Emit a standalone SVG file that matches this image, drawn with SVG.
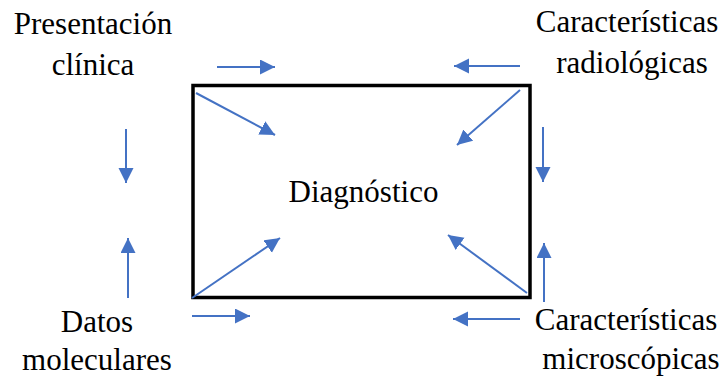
<svg xmlns="http://www.w3.org/2000/svg" width="722" height="378" viewBox="0 0 722 378">
<style>
.a{stroke:#4472C4;stroke-width:2;fill:none;marker-end:url(#ah)}
</style>
<defs>
<marker id="ah" markerUnits="userSpaceOnUse" markerWidth="16" markerHeight="16" viewBox="0 0 16 16" refX="15" refY="7.5" orient="auto">
<path d="M0,0 L15,7.5 L0,15 z" fill="#4472C4"/>
</marker>
</defs>
<rect width="722" height="378" fill="#fff"/>
<g font-family="Liberation Serif, DejaVu Serif, serif" font-size="31" text-anchor="middle" fill="#000">
<g id="diagnostico">
<rect x="193" y="85.5" width="337" height="212" fill="none" stroke="#000" stroke-width="3.5"/>
<text x="363.5" y="202">Diagnóstico</text>
</g>
<g id="presentacion">
<text x="93" y="34">Presentación</text>
<text x="93" y="75">clínica</text>
</g>
<g id="radiologicas">
<text x="627" y="32">Características</text>
<text x="632" y="73">radiológicas</text>
</g>
<g id="moleculares">
<text x="97" y="332">Datos</text>
<text x="97" y="370">moleculares</text>
</g>
<g id="microscopicas">
<text x="626" y="330">Características</text>
<text x="631" y="369">microscópicas</text>
</g>
</g>
<g id="connectors">
<line class="a" x1="217" y1="67" x2="275" y2="67"/>
<line class="a" x1="196" y1="93" x2="275" y2="135"/>
<line class="a" x1="520" y1="66" x2="454" y2="66"/>
<line class="a" x1="520" y1="90" x2="457" y2="145"/>
<line class="a" x1="126" y1="129" x2="126" y2="183"/>
<line class="a" x1="128" y1="298" x2="128" y2="238"/>
<line class="a" x1="543" y1="127" x2="543" y2="182"/>
<line class="a" x1="544" y1="302" x2="544" y2="243"/>
<line class="a" x1="192" y1="298" x2="280" y2="238"/>
<line class="a" x1="192" y1="316" x2="250" y2="316"/>
<line class="a" x1="527" y1="293" x2="448" y2="235"/>
<line class="a" x1="520" y1="319" x2="453" y2="319"/>
</g>
</svg>
